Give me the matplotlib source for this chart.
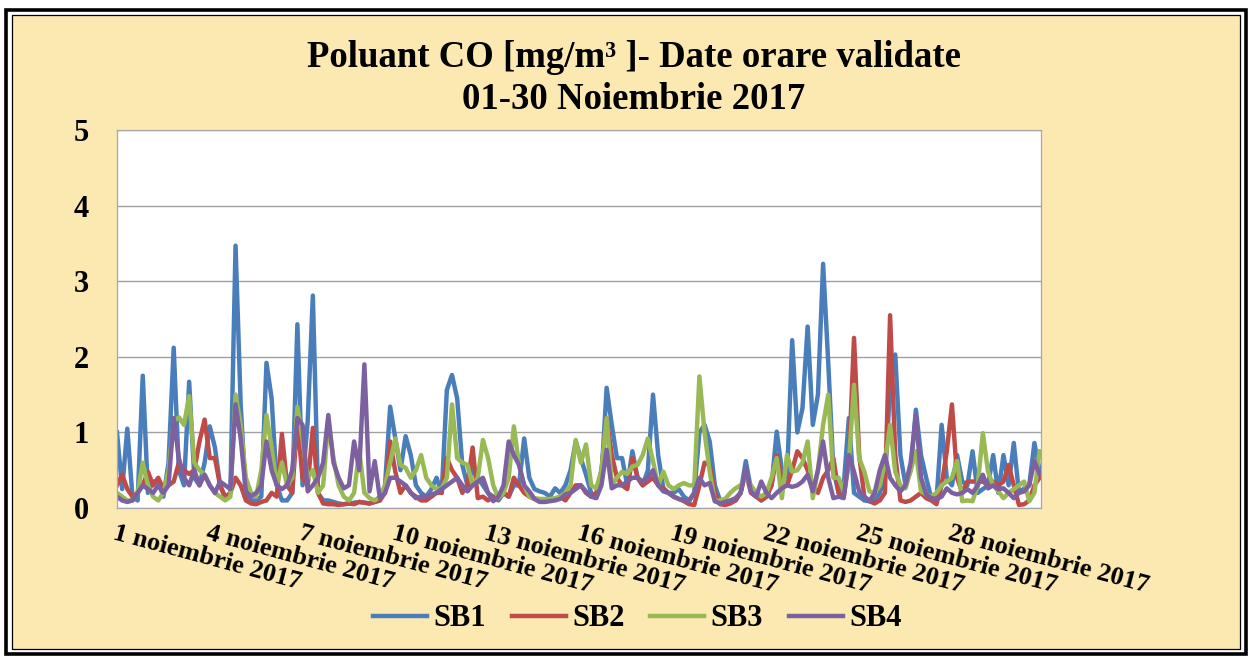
import numpy as np
import matplotlib
matplotlib.use('Agg')
import matplotlib.pyplot as plt
from matplotlib.patches import Rectangle

plt.rcParams['font.family'] = ['Liberation Serif', 'DejaVu Serif']
plt.rcParams['font.weight'] = 'bold'

# CO readings every 4 hours (00, 04, 08, 12, 16, 20), one row per day, 1-30 Nov 2017
sb1 = [
    [1.0, 0.25, 1.05, 0.15, 0.1, 1.75],
    [0.2, 0.35, 0.35, 0.15, 0.6, 2.12],
    [0.5, 0.3, 1.67, 0.4, 0.3, 0.6],
    [1.08, 0.8, 0.3, 0.15, 0.2, 3.47],
    [1.37, 0.15, 0.1, 0.1, 0.15, 1.92],
    [1.45, 0.3, 0.1, 0.1, 0.2, 2.43],
    [0.3, 1.15, 2.81, 0.2, 0.1, 0.1],
    [0.08, 0.06, 0.05, 0.06, 0.07, 0.08],
    [0.07, 0.06, 0.08, 0.1, 0.3, 1.34],
    [0.92, 0.5, 0.95, 0.7, 0.3, 0.2],
    [0.15, 0.25, 0.4, 0.2, 1.56, 1.76],
    [1.45, 0.57, 0.3, 0.53, 0.4, 0.3],
    [0.2, 0.15, 0.1, 0.2, 0.15, 0.3],
    [0.3, 0.92, 0.4, 0.25, 0.22, 0.2],
    [0.15, 0.26, 0.2, 0.3, 0.5, 0.88],
    [0.66, 0.44, 0.2, 0.15, 0.4, 1.59],
    [1.1, 0.66, 0.66, 0.3, 0.75, 0.4],
    [0.3, 0.5, 1.5, 0.7, 0.26, 0.2],
    [0.2, 0.25, 0.15, 0.1, 0.2, 1.0],
    [1.1, 0.88, 0.3, 0.1, 0.06, 0.08],
    [0.1, 0.2, 0.62, 0.25, 0.2, 0.1],
    [0.15, 0.3, 1.01, 0.5, 0.4, 2.22],
    [1.0, 1.32, 2.4, 1.1, 1.5, 3.23],
    [1.92, 0.5, 0.2, 0.3, 1.19, 0.2],
    [0.15, 0.1, 0.09, 0.1, 0.2, 0.4],
    [1.6, 2.03, 0.7, 0.3, 0.5, 1.3],
    [0.7, 0.4, 0.13, 0.1, 1.1, 0.4],
    [0.3, 0.7, 0.35, 0.3, 0.75, 0.2],
    [0.25, 0.3, 0.7, 0.2, 0.7, 0.3],
    [0.86, 0.2, 0.26, 0.3, 0.86, 0.5],
]
sb2 = [
    [0.3, 0.44, 0.25, 0.15, 0.2, 0.3],
    [0.48, 0.3, 0.4, 0.25, 0.3, 0.35],
    [0.6, 0.5, 0.45, 0.5, 0.88, 1.17],
    [0.66, 0.66, 0.3, 0.13, 0.2, 0.4],
    [0.3, 0.1, 0.06, 0.05, 0.08, 0.1],
    [0.2, 0.15, 0.98, 0.3, 0.2, 1.15],
    [0.4, 0.3, 1.06, 0.2, 0.06, 0.05],
    [0.05, 0.04, 0.05, 0.06, 0.05, 0.08],
    [0.07, 0.06, 0.08, 0.1, 0.2, 0.88],
    [0.48, 0.2, 0.3, 0.2, 0.15, 0.1],
    [0.1, 0.15, 0.2, 0.2, 0.66, 0.5],
    [0.4, 0.2, 0.3, 0.8, 0.13, 0.15],
    [0.1, 0.15, 0.12, 0.2, 0.15, 0.4],
    [0.3, 0.2, 0.15, 0.12, 0.1, 0.1],
    [0.1, 0.12, 0.15, 0.1, 0.2, 0.3],
    [0.3, 0.2, 0.15, 0.2, 0.5, 1.19],
    [0.7, 0.4, 0.3, 0.25, 0.66, 0.4],
    [0.3, 0.35, 0.4, 0.3, 0.26, 0.2],
    [0.15, 0.12, 0.09, 0.05, 0.04, 0.3],
    [0.6, 0.57, 0.2, 0.05, 0.04, 0.06],
    [0.1, 0.2, 0.48, 0.2, 0.15, 0.1],
    [0.15, 0.3, 0.7, 0.4, 0.3, 0.5],
    [0.75, 0.66, 0.5, 0.3, 0.2, 0.4],
    [0.5, 0.66, 0.2, 0.15, 0.6, 2.25],
    [0.7, 0.15, 0.09, 0.06, 0.1, 0.2],
    [2.55, 0.7, 0.1, 0.08, 0.1, 0.15],
    [0.2, 0.13, 0.1, 0.05, 0.3, 0.75],
    [1.37, 0.4, 0.2, 0.35, 0.35, 0.35],
    [0.35, 0.3, 0.35, 0.3, 0.35, 0.57],
    [0.3, 0.04, 0.05, 0.1, 0.3, 0.4],
]
sb3 = [
    [0.2, 0.15, 0.1, 0.1, 0.2, 0.6],
    [0.3, 0.15, 0.1, 0.2, 0.5, 1.15],
    [1.2, 1.1, 1.48, 0.6, 0.5, 0.44],
    [0.3, 0.2, 0.15, 0.1, 0.15, 1.5],
    [1.1, 0.4, 0.2, 0.15, 0.5, 1.23],
    [0.8, 0.3, 0.6, 0.3, 0.4, 1.34],
    [0.9, 0.4, 0.5, 0.2, 0.3, 1.15],
    [0.66, 0.3, 0.15, 0.1, 0.2, 0.75],
    [0.2, 0.13, 0.1, 0.15, 0.3, 0.6],
    [0.92, 0.57, 0.53, 0.4, 0.5, 0.7],
    [0.4, 0.3, 0.25, 0.26, 0.4, 1.37],
    [0.66, 0.6, 0.57, 0.3, 0.4, 0.9],
    [0.66, 0.3, 0.13, 0.2, 0.4, 1.08],
    [0.57, 0.3, 0.15, 0.13, 0.12, 0.12],
    [0.12, 0.13, 0.15, 0.2, 0.3, 0.9],
    [0.6, 0.84, 0.3, 0.26, 0.5, 1.19],
    [0.3, 0.4, 0.48, 0.45, 0.55, 0.57],
    [0.7, 0.92, 0.62, 0.3, 0.48, 0.3],
    [0.25, 0.3, 0.33, 0.3, 0.3, 1.74],
    [1.0, 0.48, 0.09, 0.1, 0.12, 0.2],
    [0.26, 0.3, 0.4, 0.3, 0.2, 0.15],
    [0.2, 0.4, 0.66, 0.13, 0.7, 0.48],
    [0.5, 0.6, 0.88, 0.13, 0.5, 1.1],
    [1.5, 0.4, 0.4, 0.22, 0.6, 1.63],
    [0.66, 0.48, 0.22, 0.2, 0.3, 0.6],
    [1.1, 0.48, 0.3, 0.26, 0.5, 0.75],
    [0.22, 0.18, 0.15, 0.2, 0.3, 0.35],
    [0.4, 0.62, 0.09, 0.1, 0.09, 0.3],
    [0.99, 0.48, 0.3, 0.22, 0.13, 0.2],
    [0.25, 0.3, 0.35, 0.09, 0.2, 0.75],
]
sb4 = [
    [0.15, 0.1, 0.08, 0.1, 0.2, 0.3],
    [0.25, 0.2, 0.3, 0.2, 0.3, 1.19],
    [0.66, 0.4, 0.3, 0.5, 0.3, 0.44],
    [0.3, 0.2, 0.35, 0.3, 0.25, 1.37],
    [0.92, 0.22, 0.15, 0.2, 0.3, 0.88],
    [0.5, 0.3, 0.25, 0.3, 0.5, 1.19],
    [1.1, 0.22, 0.3, 0.4, 0.6, 1.23],
    [0.6, 0.4, 0.26, 0.3, 0.88, 0.5],
    [1.9, 0.22, 0.62, 0.13, 0.2, 0.4],
    [0.4, 0.35, 0.3, 0.2, 0.13, 0.15],
    [0.15, 0.18, 0.2, 0.25, 0.3, 0.35],
    [0.4, 0.3, 0.22, 0.3, 0.35, 0.4],
    [0.2, 0.09, 0.15, 0.3, 0.88, 0.7],
    [0.57, 0.3, 0.22, 0.12, 0.08, 0.08],
    [0.09, 0.1, 0.12, 0.18, 0.2, 0.25],
    [0.3, 0.22, 0.15, 0.13, 0.3, 0.77],
    [0.26, 0.3, 0.3, 0.35, 0.4, 0.4],
    [0.35, 0.4, 0.5, 0.3, 0.22, 0.2],
    [0.15, 0.12, 0.1, 0.09, 0.2, 0.4],
    [0.3, 0.33, 0.09, 0.06, 0.08, 0.1],
    [0.13, 0.2, 0.53, 0.22, 0.15, 0.35],
    [0.2, 0.13, 0.2, 0.26, 0.3, 0.28],
    [0.3, 0.35, 0.44, 0.22, 0.5, 0.88],
    [0.4, 0.13, 0.15, 0.13, 0.7, 0.48],
    [0.22, 0.15, 0.09, 0.2, 0.5, 0.7],
    [0.4, 0.3, 0.22, 0.3, 0.6, 1.23],
    [0.4, 0.18, 0.13, 0.12, 0.15, 0.26],
    [0.2, 0.18, 0.2, 0.25, 0.2, 0.3],
    [0.44, 0.26, 0.3, 0.25, 0.26, 0.2],
    [0.13, 0.2, 0.22, 0.3, 0.62, 0.45],
]

series_names = ['SB1', 'SB2', 'SB3', 'SB4']
series_colors = ['#4A7EBB', '#BE4B48', '#98B954', '#7D60A0']

tick_days = [0, 3, 6, 9, 12, 15, 18, 21, 24, 27]
tick_labels = ['1 noiembrie 2017', '4 noiembrie 2017', '7 noiembrie 2017',
               '10 noiembrie 2017', '13 noiembrie 2017', '16 noiembrie 2017',
               '19 noiembrie 2017', '22 noiembrie 2017', '25 noiembrie 2017',
               '28 noiembrie 2017']

W, H = 1252, 657
fig = plt.figure(figsize=(W / 100, H / 100), dpi=100)
fig.patch.set_facecolor('white')


def px_rect(x0, y0, x1, y1, **kw):
    return Rectangle((x0 / W, 1 - y1 / H), (x1 - x0) / W, (y1 - y0) / H,
                     transform=fig.transFigure, zorder=-2, **kw)


# double black frame with the yellow panel
fig.add_artist(px_rect(12, 15, 1240, 649, facecolor='#FCE9B2', edgecolor='black', lw=0.9))
fig.add_artist(px_rect(6, 10, 1246, 654, fill=False, edgecolor='black', lw=2.6))

ax = fig.add_axes([117 / W, 1 - 508 / H, 924 / W, 378 / H])
ax.set_facecolor('white')

for name, color, rows in zip(series_names, series_colors, [sb1, sb2, sb3, sb4]):
    vals = np.array(rows).ravel()
    t = np.arange(len(vals)) / 6
    ax.plot(t, vals, color=color, lw=3.2, label=name, solid_joinstyle='round')

ax.set_xlim(0, 29.88)
ax.set_ylim(0, 5)
ax.set_yticks(range(6))
ax.yaxis.grid(True, color='#A0A0A0', lw=1)
ax.set_axisbelow(True)
for sp in ax.spines.values():
    sp.set_color('#A6A6A6')
    sp.set_linewidth(0.9)

ax.tick_params(axis='y', length=0, pad=20, labelsize=22)
ax.set_xticks(tick_days)
ax.set_xticklabels(tick_labels, rotation=-15, ha='left', va='top',
                   rotation_mode='anchor', fontsize=19)
ax.tick_params(axis='x', length=0, pad=10)

fig.text(0.506, 1 - 67 / H, 'Poluant CO [mg/m³ ]- Date orare validate',
         ha='center', va='baseline', fontsize=26.5, fontweight='bold')
fig.text(0.506, 1 - 109 / H, '01-30 Noiembrie 2017',
         ha='center', va='baseline', fontsize=26.5, fontweight='bold')

handles, labels = ax.get_legend_handles_labels()
fig.legend(handles, labels, loc='center', bbox_to_anchor=(0.509, 1 - 619 / H),
           ncol=4, frameon=False, fontsize=22, handlelength=1.77,
           handletextpad=0.2, columnspacing=0.85)

fig.savefig('out.png', dpi=100)
